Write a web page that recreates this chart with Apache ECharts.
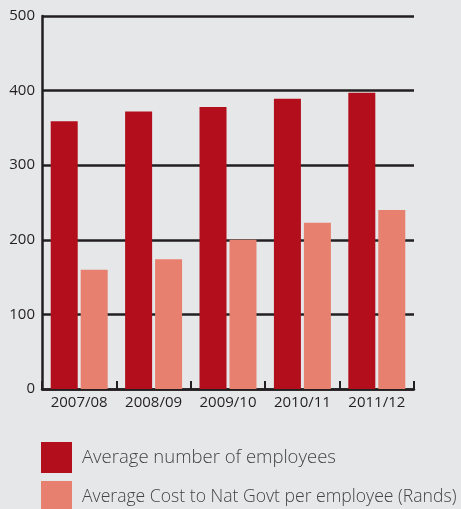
<!DOCTYPE html>
<html>
<head>
<meta charset="utf-8">
<script src="https://cdn.jsdelivr.net/npm/echarts@6/dist/echarts.min.js"></script>
<style>
  html, body { margin: 0; padding: 0; background: #e6e7e9; }
  #chart { width: 461px; height: 509px; }
</style>
</head>
<body>
<div id="chart"></div>
<script>
// Financial years on the category axis
const years = ['2007/08', '2008/09', '2009/10', '2010/11', '2011/12'];
// Series values
const employees = [359, 372, 378, 389, 397];
const costPerEmployee = [160, 174, 200, 223, 240];
// Series names shown in the legend
const seriesNames = ['Average number of employees', 'Average Cost to Nat Govt per employee (Rands)'];

const ink = '#231f20';

// one legend per series so the lower entry may run past the bottom edge
function legendFor(name, top, fontSize) {
  return {
    orient: 'vertical',
    left: 41,
    top: top,
    padding: 0,
    itemWidth: 31,
    itemHeight: 31,
    icon: 'rect',
    selectedMode: false,
    data: [name],
    textStyle: { fontSize: fontSize, color: '#444', fontWeight: 300, padding: [0, 0, 0, 5] }
  };
}

const chart = echarts.init(document.getElementById('chart'));
chart.setOption({
  backgroundColor: '#e6e7e9',
  animation: false,
  textStyle: { fontFamily: 'Open Sans' },
  grid: { left: 42, right: 47, top: 16, bottom: 120 },
  legend: [legendFor(seriesNames[0], 442, 18.5), legendFor(seriesNames[1], 481, 17.6)],
  xAxis: {
    type: 'category',
    data: years,
    boundaryGap: true,
    axisLine: { lineStyle: { color: ink, width: 2.5 } },
    axisTick: { show: true, inside: true, length: 8, interval: 0, lineStyle: { color: ink, width: 2 } },
    axisLabel: { color: ink, fontSize: 15, margin: 6, interval: 0 }
  },
  yAxis: {
    type: 'value',
    min: 0,
    max: 500,
    interval: 100,
    axisLine: { show: true, lineStyle: { color: ink, width: 2.5 } },
    axisTick: { show: false },
    axisLabel: { color: ink, fontSize: 15, margin: 7 },
    splitLine: { lineStyle: { color: ink, width: 2.5 } }
  },
  series: [
    {
      name: seriesNames[0],
      type: 'bar',
      data: employees,
      barWidth: 27,
      barGap: '11%',
      itemStyle: { color: '#b20e1b' }
    },
    {
      name: seriesNames[1],
      type: 'bar',
      data: costPerEmployee,
      barWidth: 27,
      itemStyle: { color: '#e8806f' }
    }
  ]
});
</script>
</body>
</html>
